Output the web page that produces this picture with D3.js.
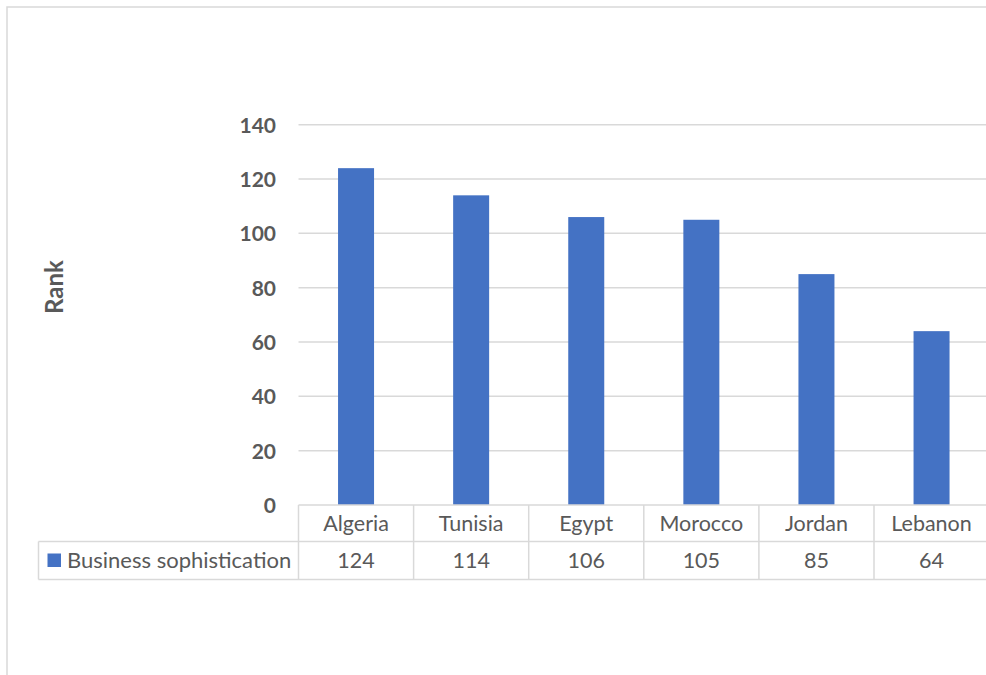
<!DOCTYPE html>
<html>
<head>
<meta charset="utf-8">
<script src="https://cdn.jsdelivr.net/npm/d3@7"></script>
<style>
  body { margin: 0; background: #fff; }
  svg { display: block; }
  text { font-family: Lato, "Open Sans", sans-serif; }
</style>
</head>
<body>
<svg id="chart" width="986" height="675"></svg>
<script>
const categories = ["Algeria", "Tunisia", "Egypt", "Morocco", "Jordan", "Lebanon"];
const seriesName = "Business sophistication";
const values = [124, 114, 106, 105, 85, 64];
const yTicks = [0, 20, 40, 60, 80, 100, 120, 140];
const yLabel = "Rank";

const svg = d3.select("#chart");
const grid = "#d9d9d9";
const txt = "#595959";
const barColor = "#4472c4";

// outer chart frame
svg.append("rect").attr("x", 7).attr("y", 7).attr("width", 1000).attr("height", 700)
  .attr("fill", "none").attr("stroke", grid).attr("stroke-width", 1.5);

const left = 298.5, plotW = 115.1 * 6;
const x = d3.scaleBand().domain(categories).range([left, left + plotW]).paddingInner(0).paddingOuter(0);
const y = d3.scaleLinear().domain([0, 140]).range([505, 124.7]);

// gridlines
svg.append("g").selectAll("line").data(yTicks.filter(t => t > 0)).join("line")
  .attr("x1", left).attr("x2", 986)
  .attr("y1", d => y(d)).attr("y2", d => y(d))
  .attr("stroke", grid).attr("stroke-width", 1.5);

// y axis labels
const yAxis = d3.axisLeft(y).tickValues(yTicks).tickSize(0).tickPadding(0);
const ya = svg.append("g").attr("transform", "translate(276,0)").call(yAxis);
ya.select(".domain").remove();
ya.selectAll("text").attr("font-family", "Lato, sans-serif").attr("font-size", 21)
  .attr("font-weight", "bold").attr("fill", txt).attr("dy", "0.35em");

// y axis title
svg.append("text").attr("transform", "translate(63,287) rotate(-90)")
  .attr("text-anchor", "middle").attr("font-size", 24).attr("font-weight", "bold")
  .attr("fill", txt).text(yLabel);

// bars
const bw = 36;
svg.append("g").selectAll("rect").data(values).join("rect")
  .attr("x", (d, i) => x(categories[i]) + x.bandwidth() / 2 - bw / 2)
  .attr("width", bw)
  .attr("y", d => y(d)).attr("height", d => y(0) - y(d))
  .attr("fill", barColor);

// data table
const r0 = 505, r1 = 541.5, r2 = 579.5, tLeft = 38.5, tRight = 990;
const tbl = svg.append("g").attr("stroke", grid).attr("stroke-width", 1.5);
tbl.append("line").attr("x1", left).attr("x2", tRight).attr("y1", r0).attr("y2", r0);
tbl.append("line").attr("x1", tLeft).attr("x2", tRight).attr("y1", r1).attr("y2", r1);
tbl.append("line").attr("x1", tLeft).attr("x2", tRight).attr("y1", r2).attr("y2", r2);
tbl.append("line").attr("x1", tLeft).attr("x2", tLeft).attr("y1", r1).attr("y2", r2);
tbl.selectAll(".v").data(d3.range(categories.length + 1)).join("line").attr("class", "v")
  .attr("x1", i => left + i * x.bandwidth()).attr("x2", i => left + i * x.bandwidth())
  .attr("y1", r0).attr("y2", r2);

const fs = 21.5;
svg.append("g").selectAll("text").data(categories).join("text")
  .attr("x", d => x(d) + x.bandwidth() / 2).attr("y", (r0 + r1) / 2).attr("dy", "0.35em")
  .attr("text-anchor", "middle").attr("font-size", fs).attr("fill", txt).text(d => d);

svg.append("g").selectAll("text").data(values).join("text")
  .attr("x", (d, i) => x(categories[i]) + x.bandwidth() / 2).attr("y", (r1 + r2) / 2).attr("dy", "0.35em")
  .attr("text-anchor", "middle").attr("font-size", fs).attr("fill", txt).text(d => d);

// legend key in table
svg.append("rect").attr("x", 47.5).attr("y", 553.5).attr("width", 13.5).attr("height", 13.5).attr("fill", barColor);
svg.append("text").attr("x", 67).attr("y", (r1 + r2) / 2).attr("dy", "0.35em")
  .attr("font-size", 22).attr("fill", txt).text(seriesName);
</script>
</body>
</html>
